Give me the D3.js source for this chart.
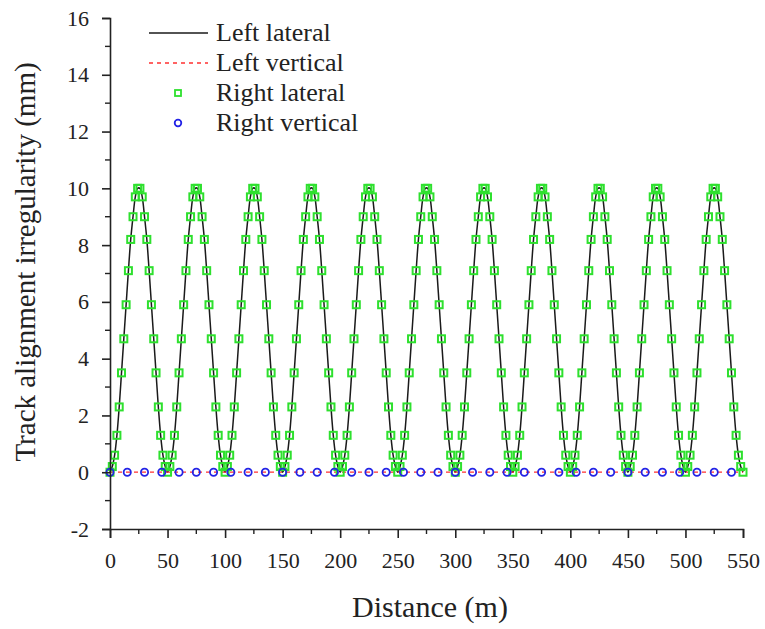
<!DOCTYPE html>
<html>
<head>
<meta charset="utf-8">
<script src="https://d3js.org/d3.v7.min.js"></script>
<style>
  body { margin: 0; background: #fff; }
  svg text { font-family: "Liberation Serif", "Times New Roman", serif; }
</style>
</head>
<body>
<svg width="765" height="629"></svg>
<script>
  // distance grid of the lateral series (m), one sample every 2 m
  var distance = d3.range(0, 551, 2);

  // lateral irregularity (mm), 25 samples per 50 m wave
  var leftLateral = [
    0, 0.2, 0.6, 1.3, 2.3, 3.5, 4.7, 5.9, 7.1, 8.2, 9.0, 9.7, 10.0, 10.0, 9.7, 9.0, 8.2, 7.1, 5.9, 4.7, 3.5, 2.3, 1.3, 0.6, 0.2,
    0, 0.2, 0.6, 1.3, 2.3, 3.5, 4.7, 5.9, 7.1, 8.2, 9.0, 9.7, 10.0, 10.0, 9.7, 9.0, 8.2, 7.1, 5.9, 4.7, 3.5, 2.3, 1.3, 0.6, 0.2,
    0, 0.2, 0.6, 1.3, 2.3, 3.5, 4.7, 5.9, 7.1, 8.2, 9.0, 9.7, 10.0, 10.0, 9.7, 9.0, 8.2, 7.1, 5.9, 4.7, 3.5, 2.3, 1.3, 0.6, 0.2,
    0, 0.2, 0.6, 1.3, 2.3, 3.5, 4.7, 5.9, 7.1, 8.2, 9.0, 9.7, 10.0, 10.0, 9.7, 9.0, 8.2, 7.1, 5.9, 4.7, 3.5, 2.3, 1.3, 0.6, 0.2,
    0, 0.2, 0.6, 1.3, 2.3, 3.5, 4.7, 5.9, 7.1, 8.2, 9.0, 9.7, 10.0, 10.0, 9.7, 9.0, 8.2, 7.1, 5.9, 4.7, 3.5, 2.3, 1.3, 0.6, 0.2,
    0, 0.2, 0.6, 1.3, 2.3, 3.5, 4.7, 5.9, 7.1, 8.2, 9.0, 9.7, 10.0, 10.0, 9.7, 9.0, 8.2, 7.1, 5.9, 4.7, 3.5, 2.3, 1.3, 0.6, 0.2,
    0, 0.2, 0.6, 1.3, 2.3, 3.5, 4.7, 5.9, 7.1, 8.2, 9.0, 9.7, 10.0, 10.0, 9.7, 9.0, 8.2, 7.1, 5.9, 4.7, 3.5, 2.3, 1.3, 0.6, 0.2,
    0, 0.2, 0.6, 1.3, 2.3, 3.5, 4.7, 5.9, 7.1, 8.2, 9.0, 9.7, 10.0, 10.0, 9.7, 9.0, 8.2, 7.1, 5.9, 4.7, 3.5, 2.3, 1.3, 0.6, 0.2,
    0, 0.2, 0.6, 1.3, 2.3, 3.5, 4.7, 5.9, 7.1, 8.2, 9.0, 9.7, 10.0, 10.0, 9.7, 9.0, 8.2, 7.1, 5.9, 4.7, 3.5, 2.3, 1.3, 0.6, 0.2,
    0, 0.2, 0.6, 1.3, 2.3, 3.5, 4.7, 5.9, 7.1, 8.2, 9.0, 9.7, 10.0, 10.0, 9.7, 9.0, 8.2, 7.1, 5.9, 4.7, 3.5, 2.3, 1.3, 0.6, 0.2,
    0, 0.2, 0.6, 1.3, 2.3, 3.5, 4.7, 5.9, 7.1, 8.2, 9.0, 9.7, 10.0, 10.0, 9.7, 9.0, 8.2, 7.1, 5.9, 4.7, 3.5, 2.3, 1.3, 0.6, 0.2,
    0
  ];
  // right lateral lies on top of left lateral
  var rightLateral = leftLateral;

  // vertical series: flat at zero
  var leftVerticalDist = [0, 550];
  var leftVertical = [0, 0];
  var rightVerticalDist = [0, 15, 30, 45, 60, 75, 90, 105, 120, 135, 150, 165, 180, 195, 210, 225, 240, 255,
    270, 285, 300, 315, 330, 345, 360, 375, 390, 405, 420, 435, 450, 465, 480, 495, 510, 525, 540];
  var rightVertical = [0, 0, 0, 0, 0, 0, 0, 0, 0, 0, 0, 0, 0, 0, 0, 0, 0, 0, 0,
    0, 0, 0, 0, 0, 0, 0, 0, 0, 0, 0, 0, 0, 0, 0, 0, 0, 0];

  var xTicks = [0, 50, 100, 150, 200, 250, 300, 350, 400, 450, 500, 550];
  var yTicks = [-2, 0, 2, 4, 6, 8, 10, 12, 14, 16];
  var legendNames = ['Left lateral', 'Left vertical', 'Right lateral', 'Right vertical'];

  var serif = '"Liberation Serif", "Times New Roman", serif';
  var ink = '#222';
  var green = '#2ee02e';
  var blue = '#2323e6';

  var svg = d3.select('svg');

  var x = d3.scaleLinear().domain([0, 550]).range([110, 743]);
  var y = d3.scaleLinear().domain([-2, 16]).range([529, 18]);

  // left lateral line
  var line = d3.line()
    .x(function(d) { return x(d[0]); })
    .y(function(d) { return y(d[1]); })
    .curve(d3.curveCatmullRom);

  svg.append('path')
    .datum(d3.zip(distance, leftLateral))
    .attr('d', line)
    .attr('fill', 'none')
    .attr('stroke', '#1a1a1a')
    .attr('stroke-width', 1.5);

  svg.append('path')
    .datum(d3.zip(leftVerticalDist, leftVertical))
    .attr('d', line.curve(d3.curveLinear))
    .attr('fill', 'none')
    .attr('stroke', '#ff3030')
    .attr('stroke-width', 1.3)
    .attr('stroke-dasharray', '4,4');

  // right lateral squares
  svg.append('g')
    .selectAll('rect')
    .data(d3.zip(distance, rightLateral))
    .enter()
    .append('rect')
    .attr('x', function(d) { return x(d[0]) - 3.5; })
    .attr('y', function(d) { return y(d[1]) - 3.5; })
    .attr('width', 7)
    .attr('height', 7)
    .attr('fill', 'none')
    .attr('stroke', green)
    .attr('stroke-width', 2);

  // right vertical circles
  svg.append('g')
    .selectAll('circle')
    .data(d3.zip(rightVerticalDist, rightVertical))
    .enter()
    .append('circle')
    .attr('cx', function(d) { return x(d[0]); })
    .attr('cy', function(d) { return y(d[1]); })
    .attr('r', 3.6)
    .attr('fill', 'none')
    .attr('stroke', blue)
    .attr('stroke-width', 1.8);

  // axes
  var fmt = function(d) { return String(d); };
  var xAxis = d3.axisBottom(x).tickValues(xTicks).tickSize(9).tickPadding(14).tickFormat(fmt);
  var yAxis = d3.axisLeft(y).tickValues(yTicks).tickSize(8).tickPadding(13).tickFormat(fmt);

  var gx = svg.append('g').attr('transform', 'translate(0,' + y(-2) + ')').call(xAxis);
  var gy = svg.append('g').attr('transform', 'translate(' + x(0) + ',0)').call(yAxis);

  // minor ticks
  gx.selectAll('.minor')
    .data([25, 75, 125, 175, 225, 275, 325, 375, 425, 475, 525])
    .enter().append('line')
    .attr('x1', function(d) { return x(d); })
    .attr('x2', function(d) { return x(d); })
    .attr('y1', 0).attr('y2', 5)
    .attr('stroke', ink).attr('stroke-width', 1.4);
  gy.selectAll('.minor')
    .data([-1, 1, 3, 5, 7, 9, 11, 13, 15])
    .enter().append('line')
    .attr('y1', function(d) { return y(d); })
    .attr('y2', function(d) { return y(d); })
    .attr('x1', 0).attr('x2', -5)
    .attr('stroke', ink).attr('stroke-width', 1.4);

  [gx, gy].forEach(function(g) {
    g.attr('font-family', serif).attr('font-size', 22);
    g.select('.domain').attr('stroke', ink).attr('stroke-width', 1.6);
    g.selectAll('.tick line').attr('stroke', ink).attr('stroke-width', 1.6);
    g.selectAll('text').attr('font-size', 22).attr('fill', ink).attr('font-family', serif);
  });

  // axis titles
  svg.append('text')
    .attr('x', 430).attr('y', 617)
    .attr('text-anchor', 'middle')
    .attr('font-family', serif)
    .attr('font-size', 30).attr('fill', ink)
    .text('Distance (m)');

  svg.append('text')
    .attr('transform', 'translate(35,262) rotate(-90)')
    .attr('text-anchor', 'middle')
    .attr('font-family', serif)
    .attr('font-size', 29).attr('fill', ink)
    .text('Track alignment irregularity (mm)');

  // legend
  var rowY = [33, 63, 93, 123];
  var leg = svg.append('g');
  leg.append('line').attr('x1', 149).attr('x2', 208).attr('y1', rowY[0]).attr('y2', rowY[0])
    .attr('stroke', '#1a1a1a').attr('stroke-width', 1.5);
  leg.append('line').attr('x1', 149).attr('x2', 208).attr('y1', rowY[1]).attr('y2', rowY[1])
    .attr('stroke', '#ff3030').attr('stroke-width', 1.3).attr('stroke-dasharray', '4,4');
  leg.append('rect').attr('x', 175).attr('y', rowY[2] - 3).attr('width', 6).attr('height', 6)
    .attr('fill', 'none').attr('stroke', green).attr('stroke-width', 1.8);
  leg.append('circle').attr('cx', 178).attr('cy', rowY[3]).attr('r', 3.3)
    .attr('fill', 'none').attr('stroke', blue).attr('stroke-width', 1.8);
  leg.selectAll('text')
    .data(legendNames)
    .enter().append('text')
    .attr('x', 216)
    .attr('y', function(d, i) { return rowY[i] + 8; })
    .attr('font-family', serif)
    .attr('font-size', 26).attr('fill', ink)
    .text(function(d) { return d; });
</script>
</body>
</html>
